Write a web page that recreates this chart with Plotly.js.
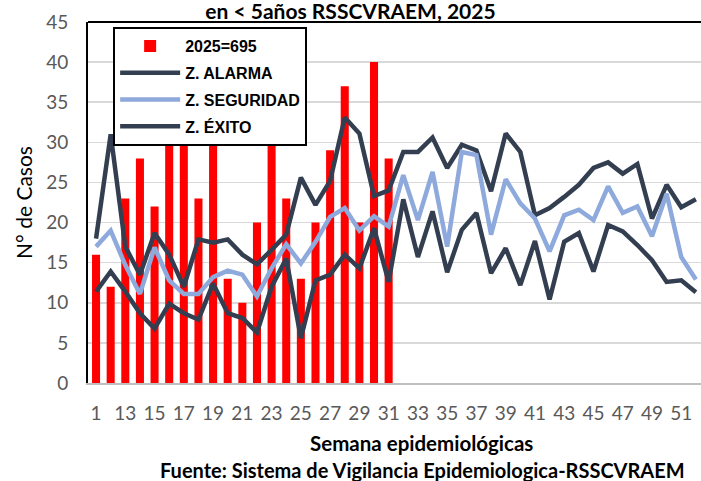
<!DOCTYPE html>
<html>
<head>
<meta charset="utf-8">
<script src="https://cdn.plot.ly/plotly-3.0.1.min.js"></script>
<style>html,body{margin:0;padding:0;background:#fff;}#chart{width:701px;height:481px;}</style>
</head>
<body>
<div id="chart"></div>
<script>
// Week categories as shown on the axis (first category is labelled "1")
var weeks = ["1","12","13","14","15","16","17","18","19","20","21","22","23","24","25","26","27","28","29","30","31","32","33","34","35","36","37","38","39","40","41","42","43","44","45","46","47","48","49","50","51","52"];

// 2025 cases (bars, weeks shown so far)
var casos2025 = [16,12,23,28,22,31,30,23,32,13,10,20,31,23,13,20,29,37,20,40,28];

// Endemic channel lines
var zAlarma = [18,31,17,13.5,18.7,16,12,17.9,17.5,17.9,16,14.8,16.6,18.5,25.6,22.2,25.2,33.1,31.1,23.3,24,28.8,28.8,30.6,26.8,29.7,29,23.9,31.1,28.8,20.9,21.8,23.2,24.7,26.8,27.5,26.1,27.3,20.5,24.7,21.9,22.9];
var zSeguridad = [17,19,14.7,11.1,16.9,12.8,11.1,11.1,13.2,14,13.5,10.8,14.3,17.3,14.9,17.6,20.7,21.8,19,20.8,19.5,25.9,20.3,26.3,17,28.8,28.4,18.5,25.4,22.4,20.5,16.4,20.9,21.6,20.3,24.5,21.2,22,18.3,23.6,15.7,12.9];
var zExito = [11.4,13.9,11.4,8.7,6.8,9.9,8.7,7.9,12.4,8.7,8.1,6.3,12,15.5,5.6,12.8,13.5,16,14.3,19.3,12.6,22.9,15.7,21.4,13.8,19.1,21.2,13.7,16.8,12.2,17.7,10.4,17.6,18.7,13.9,19.7,18.9,17.2,15.3,12.6,12.8,11.3];

var names = ["2025=695","Z. ALARMA","Z. SEGURIDAD","Z. ÉXITO"];
var dark = "#333F50", light = "#8EA9DB";

var traces = [
  {type:"bar", x: weeks.slice(0, casos2025.length), y: casos2025, name: names[0], legendgroup:"a",
   marker:{color:"#FF0000"}},
  {type:"scatter", mode:"lines", x: weeks, y: zAlarma, name: names[1], legendgroup:"b",
   line:{color:dark, width:4.5}},
  {type:"scatter", mode:"lines", x: weeks, y: zSeguridad, name: names[2], legendgroup:"c",
   line:{color:light, width:4.5}},
  {type:"scatter", mode:"lines", x: weeks, y: zExito, name: names[3], legendgroup:"d",
   line:{color:dark, width:4.5}}
];

var tickFont = {family:"Lato, 'Open Sans', sans-serif", size:19, color:"#595959"};

var layout = {
  width:701, height:481,
  margin:{l:88, r:0, t:22, b:98},
  paper_bgcolor:"#fff", plot_bgcolor:"#fff",
  bargap:0.45,
  title:{text:"<b>en < 5años RSSCVRAEM, 2025</b>", x:0.5, xanchor:"center", y:1-12/481, yanchor:"middle",
         font:{family:"Lato, sans-serif", size:21, color:"#000"}},
  xaxis:{type:"category", categoryorder:"array", categoryarray:weeks, range:[-0.55,41.35],
         tickmode:"linear", tick0:0, dtick:2, ticks:"", tickfont:tickFont, ticklabelstandoff:12,
         showline:true, linecolor:"#BFBFBF", linewidth:2, showgrid:false, zeroline:false, fixedrange:true},
  yaxis:{range:[0,45], dtick:5, tick0:0, ticks:"", tickfont:tickFont, ticklabelstandoff:14,
         showline:true, linecolor:"#000", linewidth:2, gridcolor:"#D9D9D9", gridwidth:1.5, zeroline:false,
         title:{text:"N° de Casos", font:{family:"Lato, sans-serif", size:21, color:"#000"}, standoff:8}},
  legend:{x:0.041, y:0.986, xanchor:"left", yanchor:"top", bgcolor:"#fff", bordercolor:"#000", borderwidth:2,
          font:{family:"'Liberation Sans', Arial, sans-serif", size:16, color:"#000", weight:"bold"},
          traceorder:"grouped", tracegroupgap:3, itemwidth:60},
  shapes:[{type:"line", xref:"paper", yref:"paper", x0:0, x1:1, y0:1, y1:1, line:{color:"#000", width:2}}],
  annotations:[
    {text:"<b>Semana epidemiológicas</b>", xref:"paper", yref:"paper", x:(421-88)/613, y:-(443-383)/361,
     xanchor:"center", yanchor:"middle", showarrow:false, font:{family:"Lato, sans-serif", size:20.5, color:"#000"}},
    {text:"<b>Fuente: Sistema de Vigilancia Epidemiologica-RSSCVRAEM</b>", xref:"paper", yref:"paper", x:(422-88)/613, y:-(470-383)/361,
     xanchor:"center", yanchor:"middle", showarrow:false, font:{family:"Lato, sans-serif", size:20, color:"#000"}}
  ]
};

Plotly.newPlot("chart", traces, layout, {displayModeBar:false, staticPlot:true});
</script>
</body>
</html>
